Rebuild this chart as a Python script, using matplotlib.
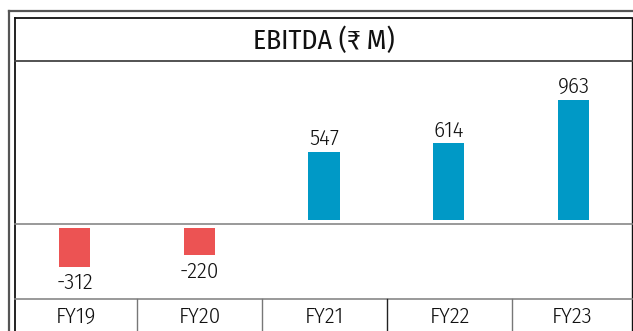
import matplotlib
matplotlib.use("Agg")
import matplotlib.pyplot as plt
from matplotlib.lines import Line2D

# EBITDA by fiscal year, in ₹ million
categories = ["FY19", "FY20", "FY21", "FY22", "FY23"]
ebitda = [-312, -220, 547, 614, 963]
title = "EBITDA (₹ M)"

POS_COLOR = "#0099c6"
NEG_COLOR = "#ec5353"
FONT = ["Fira Sans Condensed", "DejaVu Sans"]
TXT = dict(family=FONT, color="#111111", fontweight=300)

W, H = 633, 331
fig = plt.figure(figsize=(W / 100, H / 100), dpi=100)


def fx(px):
    return px / W


def fy(py):
    return 1 - py / H


# Frame / table grid drawn in pixel coordinates
frame = fig.add_axes([0, 0, 1, 1])
frame.set_xlim(0, W)
frame.set_ylim(H, 0)
frame.axis("off")

left_in, right_in = 15, 632
top_in, title_bot, zero_y, cat_top = 17.5, 61, 224, 299
col_edges = [137, 262, 387, 512]

frame.add_line(Line2D([8.5, 8.5], [11, H], color="#555555", lw=1.6))
frame.add_line(Line2D([8.5, W], [11, 11], color="#555555", lw=1.6))
frame.add_line(Line2D([left_in, left_in], [top_in, H], color="#111111", lw=1.3))
frame.add_line(Line2D([left_in, right_in], [top_in, top_in], color="#111111", lw=1.3))
frame.add_line(Line2D([right_in, right_in], [top_in, H], color="#111111", lw=1.0))
frame.add_line(Line2D([left_in, right_in], [title_bot, title_bot], color="#444444", lw=1.3))
frame.add_line(Line2D([left_in, right_in], [zero_y, zero_y], color="#888888", lw=1.2))
frame.add_line(Line2D([left_in, right_in], [cat_top, cat_top], color="#888888", lw=1.2))
for i, x in enumerate(col_edges):
    frame.add_line(Line2D([x, x], [cat_top, H], color="#222222" if i == 2 else "#777777", lw=1.0))

frame.text(323.5, (top_in + title_bot) / 2 + 1, title, fontsize=20, ha="center", va="center",
           family=FONT, color="#111111")

# Category labels in the bottom row
for i, cat in enumerate(categories):
    lo = left_in if i == 0 else col_edges[i - 1]
    hi = right_in if i == len(categories) - 1 else col_edges[i]
    frame.text((lo + hi) / 2, 317, cat, fontsize=16.5,
               ha="center", va="center", **TXT)

# Bar area: x data 0..4, y in ₹ M, zero at the grid line
px_per_unit = 0.1253
step = 124.75
first_center, last_center = 74.5, 573.5
ax = fig.add_axes([fx(left_in), fy(cat_top), fx(right_in - left_in), (cat_top - title_bot) / H])
ax.patch.set_alpha(0)
ax.axis("off")
ax.set_xlim(-(first_center - left_in) / step,
            len(categories) - 1 + (right_in - last_center) / step)
ymin = -(cat_top - zero_y) / px_per_unit
ymax = (zero_y - title_bot) / px_per_unit
ax.set_ylim(ymin, ymax)

gap = 30  # small clearance between bars and the zero line
xs = range(len(categories))
bottoms = [gap if v >= 0 else -gap for v in ebitda]
colors = [POS_COLOR if v >= 0 else NEG_COLOR for v in ebitda]
ax.bar(xs, ebitda, bottom=bottoms, width=0.25, color=colors)

for x, v, b in zip(xs, ebitda, bottoms):
    end = v + b
    ax.annotate(f"{v}", (x, end), xytext=(0, 1.5 if v >= 0 else -4), textcoords="offset points",
                ha="center", va="bottom" if v >= 0 else "top", fontsize=16.5, **TXT)

fig.savefig("out.png", dpi=100)
